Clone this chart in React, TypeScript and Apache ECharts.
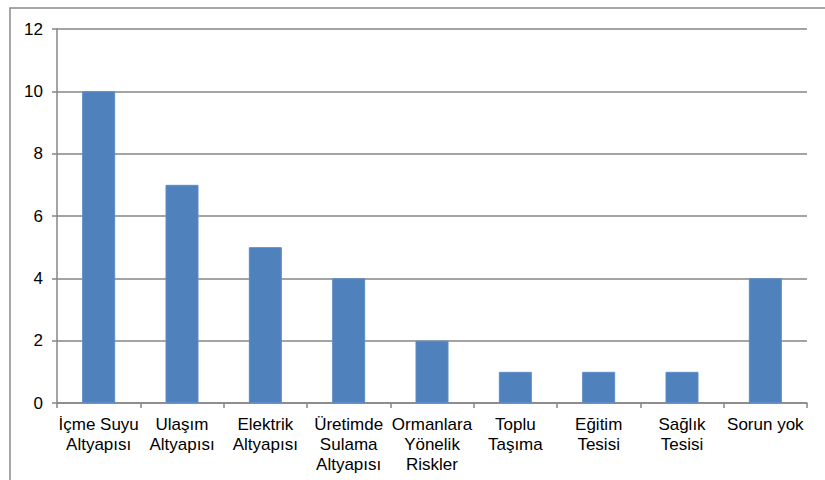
import React, { useEffect, useRef } from "react";
import * as echarts from "echarts";

const categories = [
  "İçme Suyu\nAltyapısı",
  "Ulaşım\nAltyapısı",
  "Elektrik\nAltyapısı",
  "Üretimde\nSulama\nAltyapısı",
  "Ormanlara\nYönelik\nRiskler",
  "Toplu\nTaşıma",
  "Eğitim\nTesisi",
  "Sağlık\nTesisi",
  "Sorun yok",
];
const values = [10, 7, 5, 4, 2, 1, 1, 1, 4];

export default function App() {
  const ref = useRef<HTMLDivElement>(null);
  useEffect(() => {
    if (!ref.current) return;
    const chart = echarts.init(ref.current, undefined, { renderer: "svg" });
    const font = "'Liberation Sans', Arial, sans-serif";
    chart.setOption({
      animation: false,
      backgroundColor: "#ffffff",
      grid: { left: 57, right: 18, top: 29, bottom: 77, containLabel: false },
      graphic: [
        {
          type: "polyline",
          shape: { points: [[10, 500], [10, 8], [840, 8]] },
          style: { stroke: "#8a8a8a", lineWidth: 1.5, fill: "none" },
          silent: true,
        },
      ],
      xAxis: {
        type: "category",
        data: categories,
        boundaryGap: true,
        axisLine: { show: true, lineStyle: { color: "#868686", width: 1.5 } },
        axisTick: { show: true, length: 5, lineStyle: { color: "#868686", width: 1.5 } },
        axisLabel: {
          interval: 0,
          margin: 11,
          color: "#000",
          fontFamily: font,
          fontSize: 17,
          lineHeight: 20,
        },
      },
      yAxis: {
        type: "value",
        min: 0,
        max: 12,
        interval: 2,
        axisLine: { show: true, lineStyle: { color: "#868686", width: 1.5 } },
        axisTick: { show: true, length: 5, lineStyle: { color: "#868686", width: 1.5 } },
        splitLine: { show: true, lineStyle: { color: "#868686", width: 1.5 } },
        axisLabel: {
          margin: 14,
          color: "#000",
          fontFamily: font,
          fontSize: 17,
        },
      },
      series: [
        {
          type: "bar",
          data: values,
          barWidth: 33,
          itemStyle: { color: "#4F81BD", borderColor: "#5b8cc8", borderWidth: 1 },
        },
      ],
    });
    return () => chart.dispose();
  }, []);
  return (
    <div
      ref={ref}
      style={{ position: "fixed", left: 0, top: 0, width: 825, height: 480 }}
    />
  );
}
